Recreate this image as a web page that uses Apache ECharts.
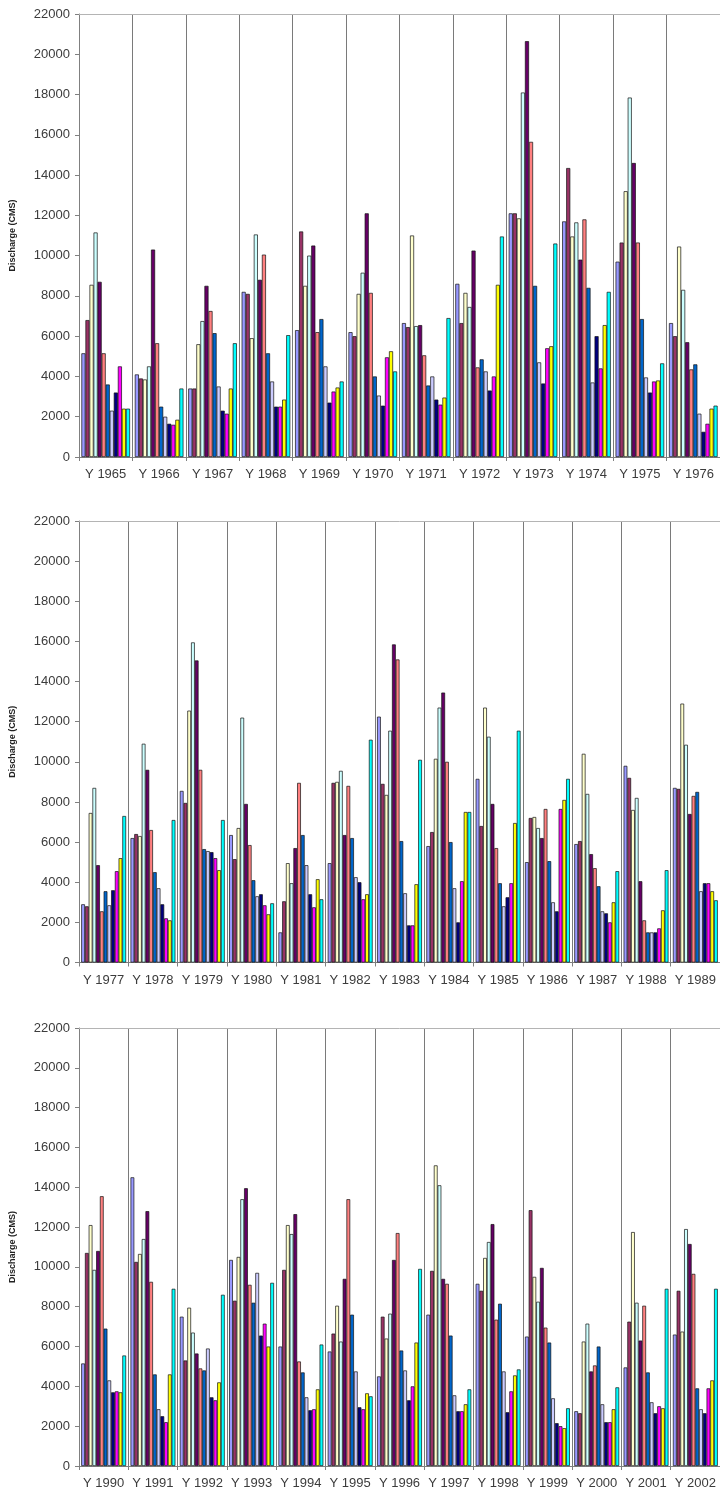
<!DOCTYPE html>
<html>
<head>
<meta charset="utf-8">
<script src="https://cdn.jsdelivr.net/npm/echarts@6/dist/echarts.min.js"></script>
<style>
html,body{margin:0;padding:0;background:#fff;}
#chart{width:720px;height:1495px;}
</style>
</head>
<body>
<div id="chart"></div>
<script>
// Series = months (Excel default palette order), categories = years
const months = ['Jan','Feb','Mar','Apr','May','Jun','Jul','Aug','Sep','Oct','Nov','Dec'];
const monthColors = ['#9999FF','#993366','#FFFFCC','#CCFFFF','#660066','#FF8080','#0066CC','#CCCCFF','#000080','#FF00FF','#FFFF00','#00FFFF'];

const years1 = ['Y 1965','Y 1966','Y 1967','Y 1968','Y 1969','Y 1970','Y 1971','Y 1972','Y 1973','Y 1974','Y 1975','Y 1976'];
const flows1 = [
  [5150, 6800, 8550, 11150, 8700, 5150, 3600, 2300, 3200, 4500, 2400, 2400],
  [4100, 3900, 3850, 4500, 10300, 5650, 2500, 2000, 1650, 1600, 1850, 3400],
  [3400, 3400, 5600, 6750, 8500, 7250, 6150, 3500, 2300, 2150, 3400, 5650],
  [8200, 8100, 5900, 11050, 8800, 10050, 5150, 3750, 2500, 2500, 2850, 6050],
  [6300, 11200, 8500, 10000, 10500, 6200, 6850, 4500, 2700, 3250, 3450, 3750],
  [6200, 6000, 8100, 9150, 12100, 8150, 4000, 3050, 2550, 4950, 5250, 4250],
  [6650, 6450, 11000, 6500, 6550, 5050, 3550, 4000, 2850, 2600, 2950, 6900],
  [8600, 6650, 8150, 7450, 10250, 4450, 4850, 4250, 3300, 4000, 8550, 10950],
  [12100, 12100, 11850, 18100, 20650, 15650, 8500, 4700, 3650, 5400, 5500, 10600],
  [11700, 14350, 10950, 11650, 9800, 11800, 8400, 3700, 6000, 4400, 6550, 8200],
  [9700, 10650, 13200, 17850, 14600, 10650, 6850, 3950, 3200, 3750, 3800, 4650],
  [6650, 6000, 10450, 8300, 5700, 4350, 4600, 2150, 1250, 1650, 2400, 2550]
];

const years2 = ['Y 1977','Y 1978','Y 1979','Y 1980','Y 1981','Y 1982','Y 1983','Y 1984','Y 1985','Y 1986','Y 1987','Y 1988','Y 1989'];
const flows2 = [
  [2900, 2800, 7450, 8700, 4850, 2550, 3550, 2850, 3600, 4550, 5200, 7300],
  [6200, 6400, 6300, 10900, 9600, 6600, 4500, 3700, 2900, 2200, 2100, 7100],
  [8550, 7950, 12550, 15950, 15050, 9600, 5650, 5550, 5500, 5200, 4600, 7100],
  [6350, 5150, 6700, 12200, 7900, 5850, 4100, 3300, 3400, 2850, 2400, 2950],
  [1500, 3050, 4950, 3950, 5700, 8950, 6350, 4850, 3400, 2750, 4150, 3150],
  [4950, 8950, 9000, 9550, 6350, 8800, 6200, 4250, 4000, 3150, 3400, 11100],
  [12250, 8900, 8350, 11550, 15850, 15100, 6050, 3450, 1850, 1850, 3900, 10100],
  [5800, 6500, 10150, 12700, 13450, 10000, 6000, 3700, 2000, 4050, 7500, 7500],
  [9150, 6800, 12700, 11250, 7900, 5700, 3950, 2800, 3250, 3950, 6950, 11550],
  [5000, 7200, 7250, 6700, 6200, 7650, 5050, 3000, 2550, 7650, 8100, 9150],
  [5900, 6050, 10400, 8400, 5400, 4700, 3800, 2550, 2450, 2000, 3000, 4550],
  [9800, 9200, 7600, 8200, 4050, 2100, 1500, 1500, 1500, 1700, 2600, 4600],
  [8700, 8650, 12900, 10850, 7400, 8300, 8500, 3550, 3950, 3950, 3550, 3100]
];

const years3 = ['Y 1990','Y 1991','Y 1992','Y 1993','Y 1994','Y 1995','Y 1996','Y 1997','Y 1998','Y 1999','Y 2000','Y 2001','Y 2002'];
const flows3 = [
  [5150, 10700, 12100, 9850, 10800, 13550, 6900, 4300, 3700, 3750, 3700, 5550],
  [14500, 10250, 10650, 11400, 12800, 9250, 4600, 2850, 2500, 2200, 4600, 8900],
  [7500, 5300, 7950, 6700, 5650, 4900, 4800, 5900, 3450, 3300, 4200, 8600],
  [10350, 8300, 10500, 13400, 13950, 9100, 8200, 9700, 6550, 7150, 6000, 9200],
  [6000, 9850, 12100, 11650, 12650, 5250, 4700, 3450, 2800, 2850, 3850, 6100],
  [5750, 6650, 8050, 6250, 9400, 13400, 7600, 4750, 2950, 2850, 3650, 3500],
  [4500, 7500, 6400, 7650, 10350, 11700, 5800, 4800, 3300, 4000, 6200, 9900],
  [7600, 9800, 15100, 14100, 9400, 9150, 6550, 3550, 2750, 2750, 3100, 3850],
  [9150, 8800, 10450, 11250, 12150, 7350, 8150, 4750, 2700, 3750, 4550, 4850],
  [6500, 12850, 9500, 8250, 9950, 6950, 6200, 3400, 2150, 2000, 1900, 2900],
  [2750, 2650, 6250, 7150, 4750, 5050, 6000, 3100, 2200, 2200, 2850, 3950],
  [4950, 7250, 11750, 8200, 6300, 8050, 4700, 3200, 2650, 3000, 2900, 8900],
  [6600, 8800, 6750, 11900, 11150, 9650, 3900, 2850, 2650, 3900, 4300, 8900]
];

const yTicks = {min: 0, max: 22000, interval: 2000};
const axisTitle = 'Discharge (CMS)';

const panels = [
  {years: years1, flows: flows1, grid: {left: 78.5, top: 14, height: 443, right: -4}},
  {years: years2, flows: flows2, grid: {left: 74.3, top: 521, height: 441.5, right: -4}},
  {years: years3, flows: flows3, grid: {left: 74.3, top: 1028, height: 438, right: -4}}
];

const FONT = '"Liberation Sans", Arial, sans-serif';
const grids = [], xAxes = [], yAxes = [], series = [];
panels.forEach((p, gi) => {
  grids.push(Object.assign({containLabel: false}, p.grid));
  // bottom category axis with boundary separators
  xAxes.push({
    type: 'category', gridIndex: gi, data: p.years, position: 'bottom',
    axisLine: {show: true, lineStyle: {color: '#808080', width: 1}},
    axisTick: {show: true, interval: 0, length: 4, lineStyle: {color: '#808080'}},
    axisLabel: {show: true, interval: 0, color: '#3c3c3c', fontSize: 13, fontFamily: FONT, margin: 11},
    splitLine: {show: true, interval: 0, lineStyle: {color: '#7a7a7a', width: 1}}
  });
  // top border line
  xAxes.push({
    type: 'category', gridIndex: gi, data: p.years, position: 'top',
    axisLine: {show: true, lineStyle: {color: '#b4b4b4', width: 1}},
    axisTick: {show: false}, axisLabel: {show: false}, splitLine: {show: false}
  });
  yAxes.push({
    type: 'value', gridIndex: gi, min: yTicks.min, max: yTicks.max, interval: yTicks.interval,
    name: axisTitle, nameLocation: 'middle', nameGap: 62,
    nameTextStyle: {fontSize: 9, fontWeight: 'bold', color: '#222', fontFamily: FONT},
    axisLine: {show: true, lineStyle: {color: '#808080', width: 1}},
    axisTick: {show: true, length: 4, lineStyle: {color: '#808080'}},
    axisLabel: {color: '#3c3c3c', fontSize: 13, fontFamily: FONT, margin: 9, formatter: v => String(v)},
    splitLine: {show: false}
  });
  months.forEach((m, mi) => {
    series.push({
      type: 'bar', name: m, xAxisIndex: gi * 2, yAxisIndex: gi,
      data: p.flows.map(row => row[mi]),
      barGap: '0%', barCategoryGap: '9%',
      itemStyle: {color: monthColors[mi], borderColor: '#111', borderWidth: 0.7},
      emphasis: {disabled: true},
      animation: false
    });
  });
});

const chart = echarts.init(document.getElementById('chart'), null, {renderer: 'canvas'});
chart.setOption({
  animation: false,
  backgroundColor: '#ffffff',
  grid: grids,
  xAxis: xAxes,
  yAxis: yAxes,
  series: series
});
</script>
</body>
</html>
